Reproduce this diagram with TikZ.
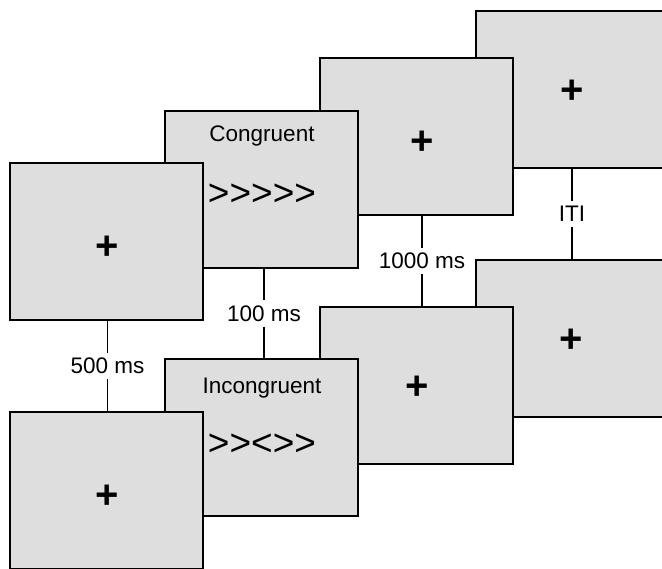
\documentclass[tikz,border=0pt]{standalone}
\usepackage{fontspec}
\setmainfont{Liberation Sans}
\newfontfamily\flankfont{Liberation Sans}[Ligatures=ResetAll]
\definecolor{scr}{RGB}{222,222,222}
\begin{document}
\begin{tikzpicture}[x=1pt,y=-1pt,
  screen/.style={draw=black, line width=1.4pt, fill=scr, minimum width=193pt, minimum height=157pt, anchor=north west, inner sep=0pt, outer sep=0pt},
  lbl/.style={font=\fontsize{22.5}{24}\selectfont, inner xsep=1.5pt, inner ysep=5pt},
  fixation/.style={font=\fontsize{40}{42}\selectfont\bfseries, inner sep=0pt},
  cue/.style={font=\fontsize{22.5}{24}\selectfont, inner sep=0pt},
  flank/.style={font=\flankfont\fontsize{37}{40}\selectfont, inner sep=0pt},
  conn/.style={line width=1.4pt}]
\useasboundingbox (0,0) rectangle (662,569);
\clip (0,0) rectangle (662,569);
% top row (back to front)
\node[screen] (D1) at (476,11) {};
\node[fixation] (pD1) at (572,92) {+};
\node[screen] (C1) at (320,58) {};
\node[fixation] (pC1) at (422,143) {+};
\node[screen] (B1) at (165,111) {};
\node[cue] (tB1) at (262,136) {Congruent};
\node[flank] (fB1) at (262,195) {>\kern0pt>\kern0pt>\kern0pt>\kern0pt>};
\node[screen] (A1) at (10,163) {};
\node[fixation] (pA1) at (107,248) {+};
% bottom row
\node[screen] (D2) at (476,260) {};
\node[fixation] (pD2) at (571,341) {+};
\node[screen] (C2) at (320,307) {};
\node[fixation] (pC2) at (417,388) {+};
\node[screen] (B2) at (165,359) {};
\node[cue] (tB2) at (262,388) {Incongruent};
\node[flank] (fB2) at (262,445) {>\kern0pt>\kern0pt<\kern0pt>\kern0pt>};
\node[screen] (A2) at (10,412) {};
\node[fixation] (pA2) at (107,497) {+};
% connector labels
\path ([xshift=1pt]A1.south) -- ([xshift=1pt]A2.north) node[midway,lbl] (l1) {500 ms};
\path ([xshift=2.5pt]B1.south) -- ([xshift=2.5pt]B2.north) node[midway,lbl] (l2) {100 ms};
\path ([xshift=5.5pt]C1.south) -- ([xshift=5.5pt]C2.north) node[midway,lbl] (l3) {1000 ms};
\path ([xshift=-0.5pt]D1.south) -- ([xshift=-0.5pt]D2.north) node[midway,lbl] (l4) {ITI};
% connectors
\draw[conn] ([xshift=1pt]A1.south) -- (l1.north) (l1.south) -- ([xshift=1pt]A2.north);
\draw[conn] ([xshift=2.5pt]B1.south) -- (l2.north) (l2.south) -- ([xshift=2.5pt]B2.north);
\draw[conn] ([xshift=5.5pt]C1.south) -- (l3.north) (l3.south) -- ([xshift=5.5pt]C2.north);
\draw[conn] ([xshift=-0.5pt]D1.south) -- (l4.north) (l4.south) -- ([xshift=-0.5pt]D2.north);
\end{tikzpicture}
\end{document}
